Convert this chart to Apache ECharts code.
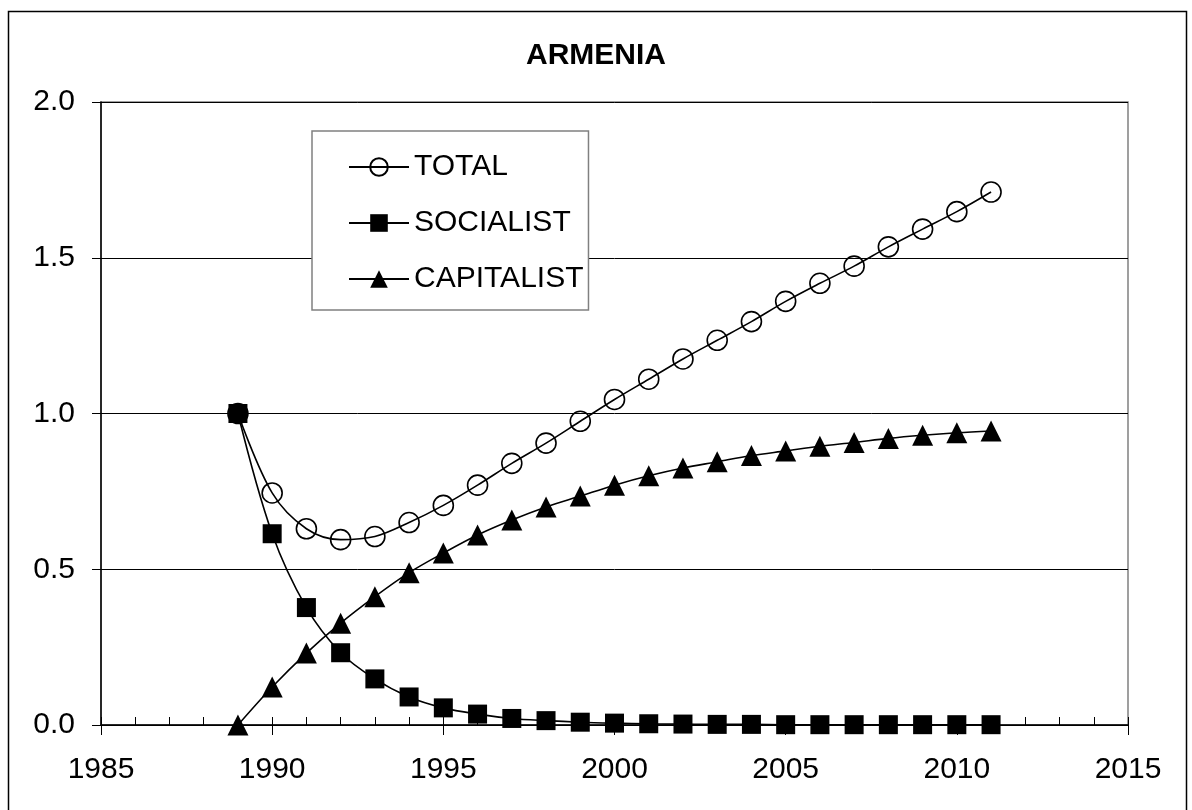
<!DOCTYPE html>
<html>
<head>
<meta charset="utf-8">
<script src="https://cdn.jsdelivr.net/npm/echarts@6/dist/echarts.min.js"></script>
<style>
html,body{margin:0;padding:0;background:#fff;}
#c{width:1192px;height:810px;}
</style>
</head>
<body>
<div id="c"></div>
<script>
const years = [1989,1990,1991,1992,1993,1994,1995,1996,1997,1998,1999,2000,2001,2002,2003,2004,2005,2006,2007,2008,2009,2010,2011];
const total = [1.0,0.745,0.63,0.595,0.605,0.65,0.705,0.77,0.84,0.905,0.975,1.045,1.11,1.175,1.235,1.295,1.36,1.418,1.473,1.535,1.592,1.648,1.711];
const socialist = [1.0,0.614,0.377,0.232,0.148,0.09,0.055,0.035,0.021,0.014,0.009,0.006,0.004,0.003,0.002,0.002,0.001,0.001,0.001,0.001,0.001,0.001,0.001];
const capitalist = [0.0,0.122,0.231,0.327,0.412,0.489,0.552,0.61,0.658,0.70,0.735,0.77,0.80,0.825,0.845,0.865,0.88,0.895,0.907,0.92,0.93,0.938,0.944];
const seriesNames = ['TOTAL','SOCIALIST','CAPITALIST'];
const xTicks = [1985,1990,1995,2000,2005,2010,2015];
const yTicks = [0.0,0.5,1.0,1.5,2.0];

const FONT = '"Liberation Sans", Arial, sans-serif';
const pairs = arr => years.map((y,i)=>[y,arr[i]]);

const chart = echarts.init(document.getElementById('c'), null, {renderer:'canvas'});
const lineBase = {
  type:'line', smooth:0.35, xAxisIndex:0, yAxisIndex:0,
  lineStyle:{color:'#000', width:1.6},
  animation:false
};
chart.setOption({
  animation:false,
  backgroundColor:'#fff',
  title:{
    text:'ARMENIA', left:'center', top:36,
    textStyle:{fontFamily:FONT, fontSize:30, fontWeight:'bold', color:'#000'}
  },
  graphic:[{
    type:'rect', shape:{x:8.5, y:11.5, width:1178, height:805},
    style:{fill:'none', stroke:'#000', lineWidth:1.5}, silent:true, z:-1
  }],
  legend:{
    orient:'vertical', left:312, top:131,
    padding:[21,5,16,36], itemGap:26, itemWidth:60, itemHeight:22,
    borderColor:'#808080', borderWidth:1.5, backgroundColor:'#fff',
    textStyle:{fontFamily:FONT, fontSize:30, color:'#000', lineHeight:30},
    data:seriesNames
  },
  grid:{left:101, right:64, top:102, bottom:85, show:true, borderColor:'#808080', borderWidth:1.5, backgroundColor:'transparent'},
  xAxis:[{
    type:'value', min:xTicks[0], max:xTicks[xTicks.length-1], interval:5, position:'bottom',
    axisLine:{show:true, onZero:false, lineStyle:{color:'#000', width:1.5}},
    axisTick:{show:true, inside:true, length:8, lineStyle:{color:'#000', width:1}},
    minorTick:{show:true, splitNumber:5, length:8, lineStyle:{color:'#000', width:1}},
    splitLine:{show:false},
    axisLabel:{fontFamily:FONT, fontSize:30, color:'#000', margin:30, formatter:v=>String(v)}
  },{
    type:'value', min:xTicks[0], max:xTicks[xTicks.length-1], interval:5, position:'bottom',
    axisLine:{show:false},
    axisTick:{show:true, inside:false, length:10, lineStyle:{color:'#000', width:1}},
    splitLine:{show:false},
    axisLabel:{show:false}
  }],
  yAxis:{
    type:'value', min:yTicks[0], max:yTicks[yTicks.length-1], interval:0.5,
    axisLine:{show:true, onZero:false, lineStyle:{color:'#000', width:1.5}},
    axisTick:{show:true, inside:false, length:9, lineStyle:{color:'#000', width:1}},
    splitLine:{show:true, lineStyle:{color:'#000', width:1}},
    axisLabel:{fontFamily:FONT, fontSize:30, color:'#000', margin:26, formatter:v=>v.toFixed(1)}
  },
  series:[
    Object.assign({}, lineBase, {
      name:seriesNames[1], data:pairs(socialist), symbol:'rect', symbolSize:19,
      itemStyle:{color:'#000', borderColor:'#000', borderWidth:0}, z:2
    }),
    Object.assign({}, lineBase, {
      name:seriesNames[2], data:pairs(capitalist), symbol:'triangle', symbolSize:21,
      itemStyle:{color:'#000', borderColor:'#000', borderWidth:0}, z:3
    }),
    Object.assign({}, lineBase, {
      name:seriesNames[0], data:pairs(total), symbol:'circle', symbolSize:20,
      itemStyle:{color:'rgba(0,0,0,0)', borderColor:'#000', borderWidth:1.6}, z:4
    })
  ]
});
</script>
</body>
</html>
